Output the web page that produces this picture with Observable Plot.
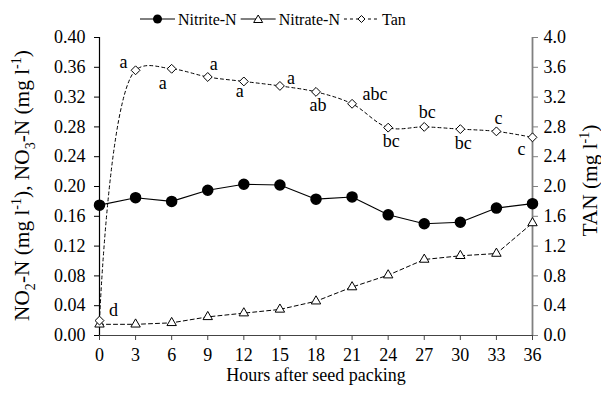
<!DOCTYPE html>
<html><head><meta charset="utf-8">
<script src="https://cdn.jsdelivr.net/npm/d3@7"></script>
<script src="https://cdn.jsdelivr.net/npm/@observablehq/plot@0.6"></script>
<style>
body{margin:0;background:#fff;font-family:"Liberation Serif", "DejaVu Serif", serif;}
#legend{height:28px;display:block;}
#chart svg{display:block;}
</style></head><body>
<svg id="legend" width="601" height="28"></svg>
<div id="chart"></div>
<script>
// ---- data ----
const hours = [0, 3, 6, 9, 12, 15, 18, 21, 24, 27, 30, 33, 36];
const nitrite = [0.175, 0.185, 0.180, 0.195, 0.203, 0.202, 0.183, 0.186, 0.162, 0.150, 0.152, 0.171, 0.177];
const nitrate = [0.015, 0.015, 0.017, 0.025, 0.030, 0.035, 0.046, 0.065, 0.081, 0.102, 0.107, 0.110, 0.151];
const tan = [0.20, 3.56, 3.58, 3.47, 3.41, 3.35, 3.27, 3.11, 2.79, 2.80, 2.77, 2.74, 2.66];
const tanLetters = ["d", "a", "a", "a", "a", "a", "ab", "abc", "bc", "bc", "bc", "c", "c"];
const seriesNames = ["Nitrite-N", "Nitrate-N", "Tan"];
const leftTicks = [0, 0.04, 0.08, 0.12, 0.16, 0.20, 0.24, 0.28, 0.32, 0.36, 0.40];
const rightTicks = [0, 0.4, 0.8, 1.2, 1.6, 2.0, 2.4, 2.8, 3.2, 3.6, 4.0];
const xLabel = "Hours after seed packing";
const leftLabelParts = [["NO"], ["2", "sub"], ["-N (mg l"], ["-1", "sup"], ["), NO"], ["3", "sub"], ["-N (mg l"], ["-1", "sup"], [")"]];
const rightLabelParts = [["TAN (mg l"], ["-1", "sup"], [")"]];

// ---- layout (label offsets in px) ----
const letterDx = [14, -12, -9, 6, -4, 11, 2, 23, 3, 3, 3, 2, -11];
const letterDy = [-10, -8, 14, -13, 10, -8, 13, -10, 14, -15, 14, -13, 12];

const rows = hours.map((h, i) => ({h, nitrite: nitrite[i], nitrate: nitrate[i], tan: tan[i], letter: tanLetters[i], i}));
const joinParts = p => p.map(d => d[0]).join("");
const FONT = '"Liberation Serif", "DejaVu Serif", serif';

const plot = Plot.plot({
  width: 601, height: 367,
  marginTop: 9, marginBottom: 60, marginLeft: 99, marginRight: 69,
  style: {fontFamily: FONT, fontSize: "18px", color: "#000", background: "#fff"},
  x: {domain: [0, 36]},
  y: {domain: [0, 0.4]},
  marks: [
    Plot.ruleY([0], {stroke: "#444", strokeWidth: 1.2}),
    Plot.ruleX([0], {stroke: "#000", strokeWidth: 1.2}),
    Plot.ruleX([36], {stroke: "#808080", strokeWidth: 1.8}),
    Plot.axisX({ticks: hours, tickSize: 5, tickPadding: 8, label: null, stroke: "#444", fill: "#000"}),
    Plot.axisY({ticks: leftTicks, tickFormat: d3.format(".2f"), tickSize: 5, tickPadding: 9, label: null, stroke: "#000"}),
    Plot.axisY(rightTicks.map(v => v / 10), {anchor: "right", tickFormat: d => (d * 10).toFixed(1), tickSize: 5, tickPadding: 6, label: null, stroke: "#808080", fill: "#000"}),
    // Nitrite
    Plot.line(rows, {x: "h", y: "nitrite", stroke: "#000", strokeWidth: 1.1}),
    Plot.dot(rows, {x: "h", y: "nitrite", r: 5, fill: "#000", stroke: "#000"}),
    // Nitrate
    Plot.line(rows, {x: "h", y: "nitrate", stroke: "#000", strokeWidth: 1, strokeDasharray: "4,3"}),
    Plot.dot(rows, {x: "h", y: "nitrate", symbol: "triangle2", r: 4.5, fill: "#fff", stroke: "#000", strokeWidth: 1}),
    // TAN (right axis, scaled 1/10 onto left scale)
    Plot.line(rows, {x: "h", y: d => d.tan / 10, stroke: "#000", strokeWidth: 1, strokeDasharray: "3,3", curve: "catmull-rom"}),
    Plot.dot(rows, {x: "h", y: d => d.tan / 10, symbol: "diamond2", r: 4, fill: "#fff", stroke: "#000", strokeWidth: 1}),
    ...rows.map(r => Plot.text([r], {x: "h", y: d => d.tan / 10, text: "letter", dx: letterDx[r.i], dy: letterDy[r.i], fill: "#000"})),
    Plot.text([xLabel], {text: d => d, frameAnchor: "bottom", lineAnchor: "middle", dy: 40, fill: "#000"}),
    Plot.text([joinParts(leftLabelParts)], {text: d => d, frameAnchor: "left", textAnchor: "middle", lineAnchor: "middle", dx: -77, rotate: -90, fill: "#000", fontSize: 17}),
    Plot.text([joinParts(rightLabelParts)], {text: d => d, frameAnchor: "right", textAnchor: "middle", lineAnchor: "middle", dx: 58, rotate: -90, fill: "#000", fontSize: 18})
  ]
});
document.getElementById("chart").appendChild(plot);

// rich text (sub/superscripts) for the axis titles, fitted to the reference length and centred on the frame
function richify(parts, baseSize, targetLen, shiftAlong) {
  const full = joinParts(parts);
  d3.select(plot).selectAll("text").filter(function () { return this.textContent === full; }).each(function () {
    const t = d3.select(this);
    const build = size => {
      t.text(null).attr("font-size", size).attr("x", 0);
      const small = size * 0.66, sub = size * 0.28, sup = -size * 0.38;
      let shift = 0;
      parts.forEach(([s, kind]) => {
        const target = kind === "sub" ? sub : kind === "sup" ? sup : 0;
        const sp = t.append("tspan").text(s).attr("dy", target - shift);
        if (kind) sp.attr("font-size", small);
        shift = target;
      });
    };
    build(baseSize);
    const len = this.getBBox().width;
    build(baseSize * targetLen / len);
    const b = this.getBBox();
    t.attr("x", -(b.x + b.width / 2) + shiftAlong);
  });
}
richify(leftLabelParts, 17, 271, 1);
richify(rightLabelParts, 18, 112, 6);

// ---- legend ----
const lg = d3.select("#legend").style("font-family", FONT).style("font-size", "16px");
const styles = [
  {dash: null, sym: "circle"},
  {dash: null, sym: "triangle"},
  {dash: "3,3", sym: "diamond"}
];
let lx = 140; const ly = 20;
seriesNames.forEach((name, i) => {
  const s = styles[i];
  const ln = lg.append("line").attr("x1", lx).attr("x2", lx + 35).attr("y1", ly - 1).attr("y2", ly - 1).attr("stroke", "#000").attr("stroke-width", 1);
  if (s.dash) ln.attr("stroke-dasharray", s.dash);
  const cx = lx + 17.5, cy = ly - 1;
  if (s.sym === "circle") lg.append("circle").attr("cx", cx).attr("cy", cy).attr("r", 4.5).attr("fill", "#000");
  else if (s.sym === "triangle") lg.append("path").attr("d", `M${cx},${cy - 4}L${cx + 4.5},${cy + 3.5}L${cx - 4.5},${cy + 3.5}Z`).attr("fill", "#fff").attr("stroke", "#000");
  else lg.append("path").attr("d", `M${cx},${cy - 3.5}L${cx + 3.5},${cy}L${cx},${cy + 3.5}L${cx - 3.5},${cy}Z`).attr("fill", "#fff").attr("stroke", "#000");
  const tx = lg.append("text").attr("x", lx + 38).attr("y", ly + 5).attr("fill", "#000").text(name);
  lx = lx + 38 + tx.node().getComputedTextLength() + 4;
});
</script>
</body></html>
